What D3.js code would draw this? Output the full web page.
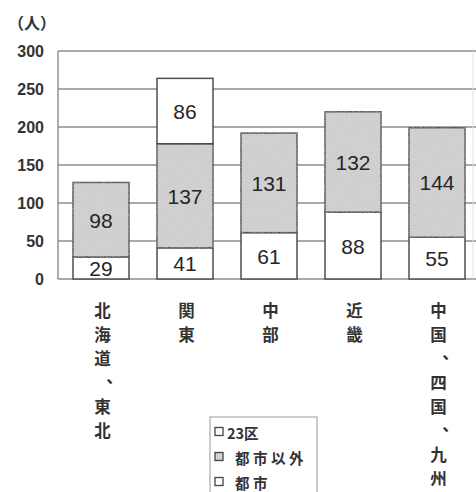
<!DOCTYPE html>
<html>
<head>
<meta charset="utf-8">
<script src="https://cdn.jsdelivr.net/npm/d3@7/dist/d3.min.js"></script>
<style>
  html, body { margin: 0; padding: 0; background: #fff; }
  svg { display: block; }
</style>
</head>
<body>
<svg id="chart" width="476" height="492"></svg>
<script>
// Regions along the x axis (each label is written top-to-bottom)
const regions = ["北海道、東北", "関東", "中部", "近畿", "中国、四国、九州"];
// Stacked series, bottom to top
const toshi      = [29, 41, 61, 88, 55];     // 都市
const toshiIgai  = [98, 137, 131, 132, 144]; // 都市以外
const ku23       = [0, 86, 0, 0, 0];         // 23区
const seriesNames = ["都市", "都市以外", "23区"];
const legendOrder = ["23区", "都市以外", "都市"];
const yTicks = [0, 50, 100, 150, 200, 250, 300];
const unitLabel = "（人）";

const svg = d3.select("#chart");
const margin = { left: 58, top: 51 };
const plotH = 228;
const frameW = 415;

const cjk = "'Noto Sans CJK JP', 'Noto Sans', sans-serif";
const num = "'Liberation Sans', Arial, sans-serif";

const x = d3.scaleBand()
  .domain(regions)
  .range([1, 421])
  .paddingInner(1 / 3)
  .paddingOuter(1 / 6);
const y = d3.scaleLinear().domain([0, 300]).range([plotH, 0]);

// Grain for the grey segments
const defs = svg.append("defs");
const f = defs.append("filter").attr("id", "grain");
f.append("feTurbulence").attr("type", "fractalNoise").attr("baseFrequency", 0.75)
  .attr("numOctaves", 3).attr("seed", 7).attr("result", "noise");
f.append("feColorMatrix").attr("in", "noise").attr("type", "matrix")
  .attr("values", "0 0 0 0 0.55  0 0 0 0 0.55  0 0 0 0 0.55  0.9 0 0 0 -0.3")
  .attr("result", "dots");
f.append("feComposite").attr("in", "dots").attr("in2", "SourceGraphic")
  .attr("operator", "in").attr("result", "clipped");
const fm = f.append("feMerge");
fm.append("feMergeNode").attr("in", "SourceGraphic");
fm.append("feMergeNode").attr("in", "clipped");

const g = svg.append("g").attr("transform", `translate(${margin.left},${margin.top})`);

// Gridlines
g.append("g").selectAll("line")
  .data(yTicks.filter(t => t > 0))
  .join("line")
  .attr("x1", 0).attr("x2", 430)
  .attr("y1", d => y(d)).attr("y2", d => y(d))
  .attr("stroke", "#8c8c8c").attr("stroke-width", 1.4);

// Frame: left axis, baseline, right edge
g.append("line").attr("x1", 0).attr("x2", 0).attr("y1", y(300)).attr("y2", y(0))
  .attr("stroke", "#8c8c8c").attr("stroke-width", 1.4);
g.append("line").attr("x1", 0).attr("x2", 430).attr("y1", y(0)).attr("y2", y(0))
  .attr("stroke", "#8c8c8c").attr("stroke-width", 1.4);
g.append("line").attr("x1", frameW).attr("x2", frameW).attr("y1", y(300)).attr("y2", y(0))
  .attr("stroke", "#e2e2e2").attr("stroke-width", 1);

// Y axis labels
const yAxis = g.append("g")
  .call(d3.axisLeft(y).tickValues(yTicks).tickSize(0).tickPadding(14));
yAxis.select(".domain").remove();
yAxis.selectAll("text")
  .attr("font-family", num).attr("font-size", 16).attr("font-weight", "bold")
  .attr("fill", "#333");

// Stacked bars
const rows = regions.map((r, i) => ({
  region: r, "都市": toshi[i], "都市以外": toshiIgai[i], "23区": ku23[i]
}));
const stack = d3.stack().keys(seriesNames)(rows);
const fills = { "都市": "#ffffff", "都市以外": "#d2d2d2", "23区": "#ffffff" };

const layers = g.append("g").selectAll("g")
  .data(stack)
  .join("g");

layers.selectAll("rect")
  .data(s => s.map(d => ({ key: s.key, d })).filter(o => o.d[1] - o.d[0] > 0))
  .join("rect")
  .attr("x", o => x(o.d.data.region))
  .attr("width", x.bandwidth())
  .attr("y", o => y(o.d[1]))
  .attr("height", o => y(o.d[0]) - y(o.d[1]))
  .attr("fill", o => fills[o.key])
  .attr("stroke", "#4e4e4e")
  .attr("stroke-width", 1.5)
  .attr("filter", o => o.key === "都市以外" ? "url(#grain)" : null);

// Value labels inside segments
layers.selectAll("text")
  .data(s => s.map(d => ({ key: s.key, d })).filter(o => o.d[1] - o.d[0] > 0))
  .join("text")
  .attr("x", o => x(o.d.data.region) + x.bandwidth() / 2)
  .attr("y", o => (y(o.d[0]) + y(o.d[1])) / 2)
  .attr("dy", "0.38em")
  .attr("text-anchor", "middle")
  .attr("font-family", num).attr("font-size", 21)
  .attr("fill", "#262626")
  .text(o => o.d[1] - o.d[0]);

// Category labels, one character per line
const charPitch = 24;
const catG = g.append("g");
regions.forEach(r => {
  const cx = x(r) + x.bandwidth() / 2 + 1.5;
  Array.from(r).forEach((ch, k) => {
    const cy = plotH + 31 + k * charPitch;
    const isComma = ch === "、";
    catG.append("text")
      .attr("x", cx + (isComma ? 12 : 0))
      .attr("y", cy + (isComma ? -6 : 0))
      .attr("dominant-baseline", "central")
      .attr("text-anchor", "middle")
      .attr("font-family", cjk).attr("font-size", 16.5).attr("font-weight", "bold")
      .attr("fill", "#333")
      .text(ch);
  });
});

// Unit label
svg.append("text")
  .attr("x", 8).attr("y", 22)
  .attr("dominant-baseline", "central")
  .attr("font-family", cjk).attr("font-size", 16).attr("font-weight", "bold")
  .attr("fill", "#333")
  .text(unitLabel);

// Legend
const lg = svg.append("g").attr("transform", "translate(210,417)");
lg.append("rect").attr("x", 0).attr("y", 0).attr("width", 107).attr("height", 90)
  .attr("fill", "#fff").attr("stroke", "#999").attr("stroke-width", 1);
legendOrder.forEach((name, i) => {
  const cy = 15 + i * 25;
  lg.append("rect")
    .attr("x", 5).attr("y", cy - 4.5).attr("width", 8).attr("height", 8)
    .attr("fill", name === "都市以外" ? "#d2d2d2" : "#fff")
    .attr("stroke", "#444").attr("stroke-width", 1.3);
  lg.append("text")
    .attr("x", i === 0 ? 17 : 25).attr("y", cy)
    .attr("dominant-baseline", "central")
    .attr("font-family", cjk).attr("font-size", 14.5).attr("font-weight", "bold")
    .attr("letter-spacing", name === "23区" ? 0 : 3.5)
    .attr("fill", "#333")
    .text(name);
});
</script>
</body>
</html>
